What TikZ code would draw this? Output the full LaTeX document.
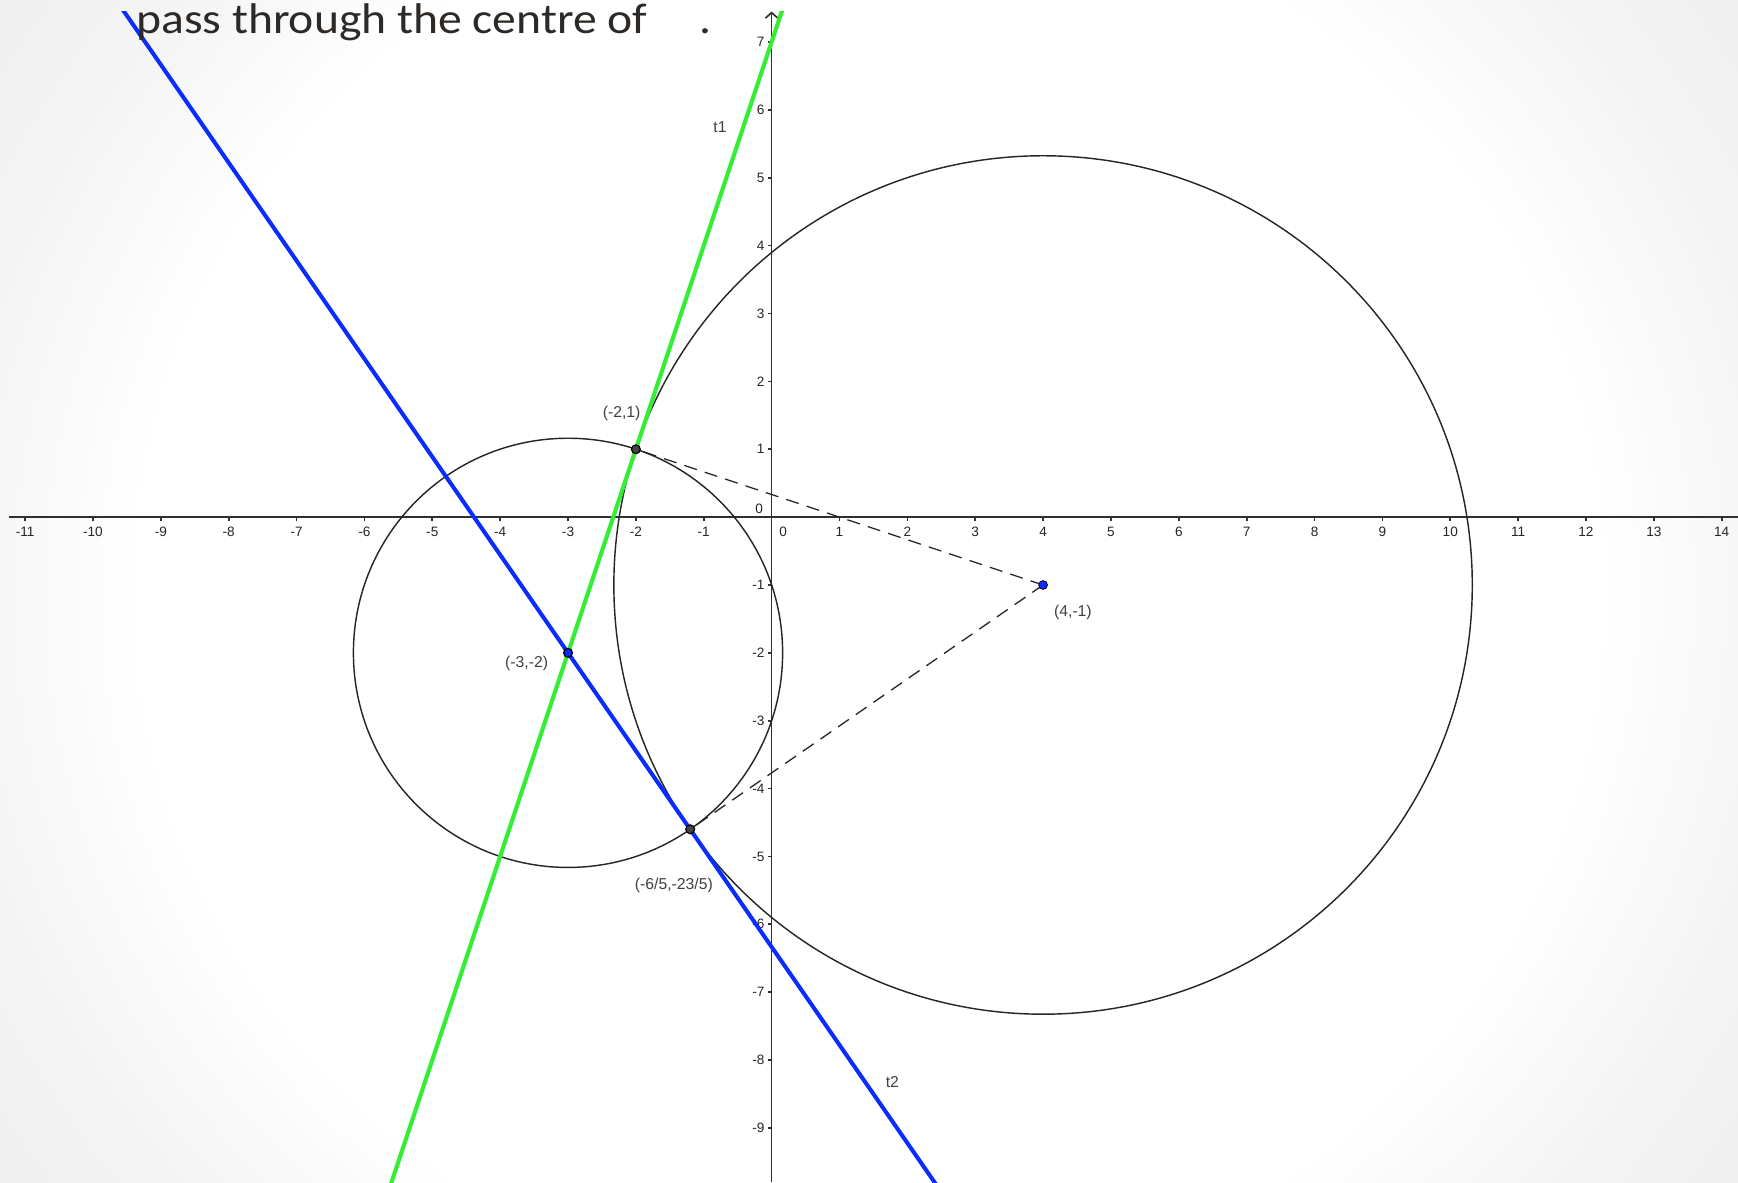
\documentclass[tikz,border=0pt]{standalone}
\usepackage{fontspec}
\setmainfont{Liberation Sans}
\newfontfamily\slidefont[FakeStretch=1.11]{Carlito}
\usetikzlibrary{arrows.meta,positioning,calc}
\definecolor{TanBlue}{HTML}{0A2CFF}
\definecolor{TanGreen}{HTML}{33EE33}
\definecolor{PtGray}{HTML}{444444}
\definecolor{AxisGray}{HTML}{303030}
\definecolor{SlideText}{HTML}{2C2926}
\pgfdeclareradialshading{slidevignette}{\pgfpoint{0bp}{0bp}}{color(0bp)=(white); color(21bp)=(white); color(26bp)=(black!4); color(36bp)=(black!9); color(50bp)=(black!9)}

\begin{document}
\begin{tikzpicture}[>=Latex]
\tikzstyle{axis}=[draw=AxisGray,line width=0.7pt]
\tikzstyle{ticklbl}=[font=\fontsize{5.7}{6}\selectfont,inner sep=0pt,text=black!85]
\tikzstyle{lbl}=[font=\fontsize{6.6}{7}\selectfont,inner sep=0pt,text=black!75]
\tikzstyle{circ}=[draw=black!85,line width=0.6pt]
\tikzstyle{aux}=[draw=black!85,line width=0.55pt,dash pattern=on 5.5pt off 3.5pt]
\tikzstyle{tanline}=[line width=1.7pt]
\tikzstyle{ptdot}=[circle,draw=black,line width=0.5pt,inner sep=0pt,minimum size=0.13cm]
\useasboundingbox (-11.37,-9.80) rectangle (14.24,7.62);
\begin{scope}
\clip (-11.37,-9.80) rectangle (14.24,7.62);
\shade[shading=slidevignette] (-11.37,-13.5) rectangle (14.24,11.3);
\end{scope}
\coordinate (A) at (-2,1);
\coordinate (C1) at (-3,-2);
\coordinate (C2) at (4,-1);
\coordinate (B) at (-1.2,-4.6);
\draw[axis] (-11.23,0) -- (14.24,0);
\draw[axis,-{Straight Barb[length=0.8mm,width=1.8mm]}] (0,-9.8) -- (0,7.45);
\foreach \x in {-11,...,-1,1,2,...,14} {
  \draw[axis] (\x,0) -- (\x,-0.06);
  \node[ticklbl] (xl\x) at (\x,-0.22) {\x};
}
\foreach \y in {-9,...,-1,1,2,...,7} {
  \draw[axis] (0,\y) -- (-0.06,\y);
  \node[ticklbl,anchor=east] (yl\y) at (-0.1,\y) {\y};
}
\node[ticklbl,anchor=east] (ylz) at (-0.12,0.12) {0};
\node[ticklbl] (xlz) at (0.17,-0.22) {0};
\draw[circ] (C1) circle[radius={sqrt(10)}];
\draw[circ] (C2) circle[radius={sqrt(40)}];
\draw[aux] (C2) -- (A);
\draw[aux] (C2) -- (B);
\begin{scope}
\clip (-11.23,-9.8) rectangle (14.24,7.45);
\draw[tanline,TanGreen] ($(C1)!-3!(A)$) -- ($(C1)!4!(A)$);
\draw[tanline,TanBlue] ($(C1)!-4!(B)$) -- ($(C1)!3.5!(B)$);
\end{scope}
\node[ptdot,fill=PtGray] (Adot) at (A) {};
\node[ptdot,fill=TanBlue] (C1dot) at (C1) {};
\node[ptdot,fill=TanBlue,line width=0.3pt] (C2dot) at (C2) {};
\node[ptdot,fill=PtGray] (Bdot) at (B) {};
\node[lbl] (Albl) at (-2.21,1.53) {(-2,1)};
\node[lbl] (C1lbl) at (-3.61,-2.16) {(-3,-2)};
\node[lbl] (C2lbl) at (4.44,-1.41) {(4,-1)};
\node[lbl] (Blbl) at (-1.44,-5.42) {(-6/5,-23/5)};
\node[lbl] (t1lbl) at (-0.76,5.75) {t1};
\node[lbl] (t2lbl) at (1.78,-8.32) {t2};
\node[anchor=base west,inner sep=0pt,font=\slidefont\fontsize{18}{20}\selectfont,text=SlideText] (title) at (-9.37,7.12) {pass through the centre of\hspace{22pt}.};
\end{tikzpicture}
\end{document}
